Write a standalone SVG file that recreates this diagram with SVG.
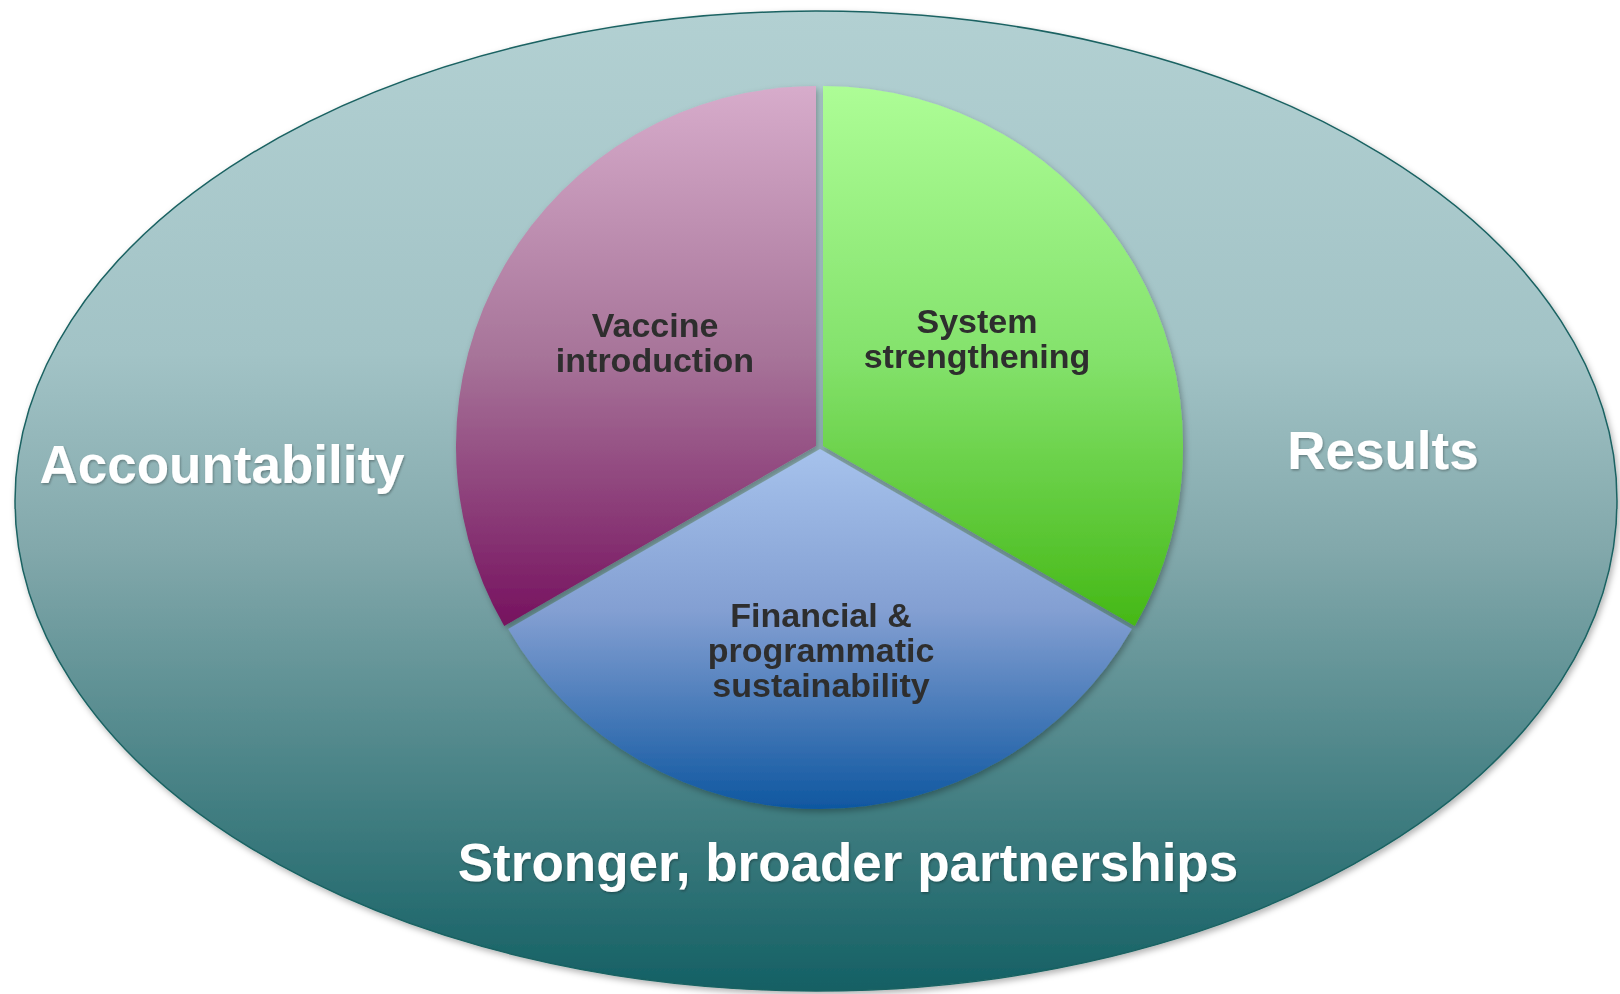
<svg xmlns="http://www.w3.org/2000/svg" width="1620" height="994" viewBox="0 0 1620 994">
  <defs>
    <linearGradient id="gOuter" x1="0" y1="0" x2="0" y2="1">
      <stop offset="0" stop-color="#B2D0D2"/>
      <stop offset="0.35" stop-color="#A2C3C6"/>
      <stop offset="0.55" stop-color="#82A8AB"/>
      <stop offset="1" stop-color="#146064"/>
    </linearGradient>
    <linearGradient id="gPink" x1="0" y1="0" x2="0" y2="1">
      <stop offset="0" stop-color="#D7ACCB"/>
      <stop offset="0.5" stop-color="#A77499"/>
      <stop offset="1" stop-color="#76125F"/>
    </linearGradient>
    <linearGradient id="gGreen" x1="0" y1="0" x2="0" y2="1">
      <stop offset="0" stop-color="#ADFD96"/>
      <stop offset="0.5" stop-color="#84E26C"/>
      <stop offset="1" stop-color="#45B816"/>
    </linearGradient>
    <linearGradient id="gBlue" x1="0" y1="0" x2="0" y2="1">
      <stop offset="0" stop-color="#A6C2EC"/>
      <stop offset="0.45" stop-color="#839FD2"/>
      <stop offset="1" stop-color="#0F57A0"/>
    </linearGradient>
    <filter id="shadow" x="-10%" y="-10%" width="120%" height="120%">
      <feDropShadow dx="2" dy="3" stdDeviation="3" flood-color="#000" flood-opacity="0.3"/>
    </filter>
    <filter id="tshadow" x="-5%" y="-5%" width="110%" height="120%">
      <feDropShadow dx="1" dy="1.5" stdDeviation="0.8" flood-color="#000" flood-opacity="0.3"/>
    </filter>
    <style>
      .inner { font-family: "Liberation Sans", Arial, sans-serif; font-weight: bold; font-size: 34px; fill: #2E2E2E; text-anchor: middle; }
      .outer { font-family: "Liberation Sans", Arial, sans-serif; font-weight: bold; font-size: 53px; fill: #FFFFFF; text-anchor: middle; }
      .slice { stroke: none; }
    </style>
  </defs>

  <g id="outer-ellipse">
    <ellipse cx="816" cy="501" rx="801" ry="490" fill="url(#gOuter)" stroke="#1A6262" stroke-width="1.5" filter="url(#shadow)"/>
  </g>

  <g id="label-accountability" filter="url(#tshadow)">
    <text class="outer" x="222" y="483">Accountability</text>
  </g>
  <g id="label-results" filter="url(#tshadow)">
    <text class="outer" x="1383" y="469">Results</text>
  </g>
  <g id="label-partnerships" filter="url(#tshadow)">
    <text class="outer" x="848" y="881">Stronger, broader partnerships</text>
  </g>

  <g id="slice-vaccine" filter="url(#shadow)">
    <path class="slice" fill="url(#gPink)" d="M816,446 L816,86 A360,360 0 0 0 504.2,626 Z"/>
    <text class="inner" x="655" y="337">Vaccine</text>
    <text class="inner" x="655" y="372">introduction</text>
  </g>

  <g id="slice-system" filter="url(#shadow)">
    <path class="slice" fill="url(#gGreen)" d="M823,446 L823,86 A360,360 0 0 1 1134.8,626 Z"/>
    <text class="inner" x="977" y="333">System</text>
    <text class="inner" x="977" y="368">strengthening</text>
  </g>

  <g id="slice-financial" filter="url(#shadow)">
    <path class="slice" fill="url(#gBlue)" d="M820,449 L1131.8,629 A360,360 0 0 1 508.2,629 Z"/>
    <text class="inner" x="821" y="627">Financial &amp;</text>
    <text class="inner" x="821" y="662">programmatic</text>
    <text class="inner" x="821" y="697">sustainability</text>
  </g>

  <g id="connectors"/>
</svg>
